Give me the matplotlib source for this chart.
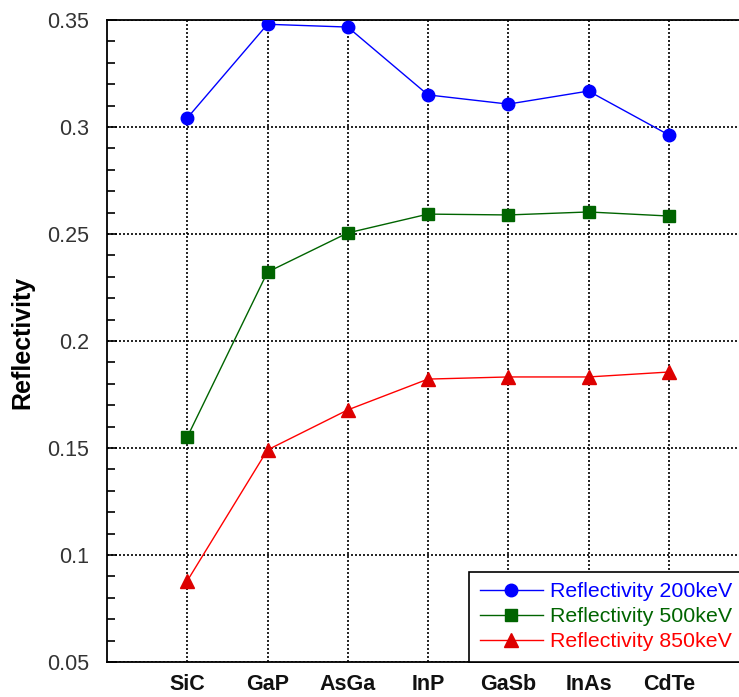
import matplotlib
matplotlib.use("Agg")
import matplotlib.pyplot as plt
from matplotlib.ticker import MultipleLocator

plt.rcParams['font.family'] = ['Liberation Sans', 'DejaVu Sans']

materials = ["SiC", "GaP", "AsGa", "InP", "GaSb", "InAs", "CdTe"]
refl_200kev = [0.3042, 0.3480, 0.3467, 0.3150, 0.3107, 0.3168, 0.2963]
refl_500kev = [0.1551, 0.2322, 0.2505, 0.2593, 0.2589, 0.2603, 0.2584]
refl_850kev = [0.0879, 0.1491, 0.1678, 0.1822, 0.1832, 0.1832, 0.1855]
y_ticks = [0.05, 0.1, 0.15, 0.2, 0.25, 0.3, 0.35]
y_tick_labels = ["0.05", "0.1", "0.15", "0.2", "0.25", "0.3", "0.35"]

fig = plt.figure(figsize=(7.39, 6.97), dpi=100)
ax = fig.add_axes([107 / 739, 35 / 697, 642 / 739, 642 / 697])

x = list(range(1, len(materials) + 1))
series = [
    (refl_200kev, "#0000ff", "o", 9, "Reflectivity 200keV"),
    (refl_500kev, "#006400", "s", 8.5, "Reflectivity 500keV"),
    (refl_850kev, "#ff0000", "^", 9.5, "Reflectivity 850keV"),
]
for vals, color, marker, ms, label in series:
    mfc = "#dd0000" if marker == "^" else color
    ax.plot(x, vals, color=color, lw=1.0, marker=marker, ms=ms,
            mfc=mfc, mec=mfc, label=label, zorder=3)

ax.set_xlim(0, 8)
ax.set_ylim(0.05, 0.35)
ax.set_xticks(x)
ax.set_xticklabels(materials, fontsize=15.5, fontweight="bold", color="#111111")
ax.set_yticks(y_ticks)
ax.set_yticklabels(y_tick_labels, fontsize=15.5, color="#333333")
ax.yaxis.set_minor_locator(MultipleLocator(0.01))

ax.tick_params(axis="x", length=0, pad=9)
ax.tick_params(axis="y", which="major", direction="in", length=7, width=1.2, pad=13)
ax.tick_params(axis="y", which="minor", direction="in", length=6, width=1.2)

ax.grid(True, which="major", color="black", linestyle=(0, (1.2, 1.2)), lw=1.2, zorder=1)

for side in ("left", "top", "bottom"):
    ax.spines[side].set_linewidth(1.3)
ax.spines["right"].set_visible(False)

ax.set_ylabel("Reflectivity", fontsize=18, fontweight="bold")
ax.yaxis.set_label_coords(-(107 - 34) / 642, (662 - 342) / 642)

leg = ax.legend(loc="lower left", bbox_to_anchor=((469 - 107) / 642, 0.0), fontsize=15.4,
                frameon=True, fancybox=False, edgecolor="black", framealpha=1.0,
                handlelength=2.95, handletextpad=0.35, borderpad=0.5,
                labelspacing=0.28, borderaxespad=0.0)
leg.get_frame().set_linewidth(1.2)
leg.set_zorder(5)
for text, (_, color, _, _, _) in zip(leg.get_texts(), series):
    text.set_color(color)

fig.savefig("out.png", dpi=100)
